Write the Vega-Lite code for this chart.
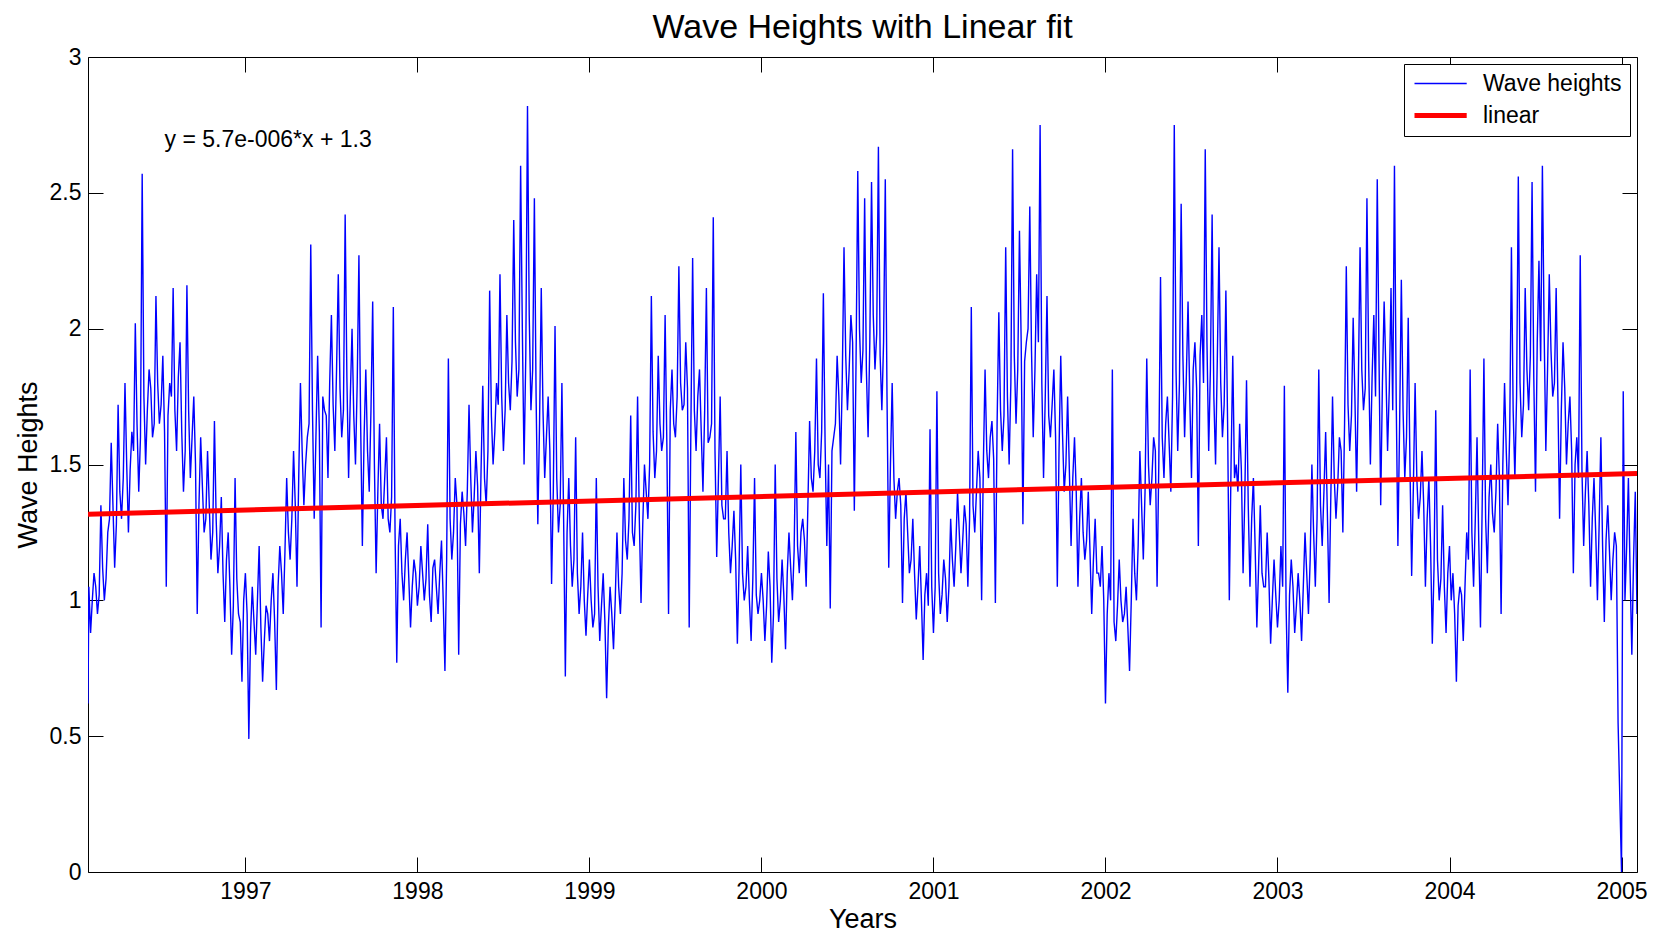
{
"$schema": "https://vega.github.io/schema/vega-lite/v6.json",
"width": 1549, "height": 815,
"autosize": {"type": "none"},
"padding": {"left": 88, "top": 57, "right": 28, "bottom": 63},
"background": "white",
"title": {"text": "Wave Heights with Linear fit", "fontSize": 34, "font": "Liberation Sans", "fontWeight": "normal", "color": "black", "anchor": "middle", "offset": -33, "baseline": "bottom"},
"config": {"view": {"stroke": "black", "strokeWidth": 1}, "font": "Liberation Sans"},
"datasets": {
"waves": [
{"x":1996.085,"y":0.62},{"x":1996.09,"y":1.05},{"x":1996.1,"y":0.88},{"x":1996.11,"y":1.00},{"x":1996.12,"y":1.10},{"x":1996.13,"y":1.05},{"x":1996.14,"y":0.95},{"x":1996.15,"y":1.02},{"x":1996.16,"y":1.35},{"x":1996.17,"y":1.12},{"x":1996.18,"y":1.00},{"x":1996.19,"y":1.08},{"x":1996.2,"y":1.25},{"x":1996.21,"y":1.30},{"x":1996.22,"y":1.58},{"x":1996.23,"y":1.35},{"x":1996.24,"y":1.12},{"x":1996.25,"y":1.28},{"x":1996.26,"y":1.72},{"x":1996.27,"y":1.40},{"x":1996.28,"y":1.30},{"x":1996.29,"y":1.45},{"x":1996.3,"y":1.80},{"x":1996.31,"y":1.50},{"x":1996.32,"y":1.25},{"x":1996.33,"y":1.48},{"x":1996.34,"y":1.62},{"x":1996.35,"y":1.55},{"x":1996.36,"y":2.02},{"x":1996.37,"y":1.65},{"x":1996.38,"y":1.40},{"x":1996.39,"y":1.60},{"x":1996.4,"y":2.57},{"x":1996.41,"y":1.75},{"x":1996.42,"y":1.50},{"x":1996.43,"y":1.70},{"x":1996.44,"y":1.85},{"x":1996.45,"y":1.78},{"x":1996.46,"y":1.60},{"x":1996.47,"y":1.65},{"x":1996.48,"y":2.12},{"x":1996.49,"y":1.80},{"x":1996.5,"y":1.65},{"x":1996.51,"y":1.72},{"x":1996.52,"y":1.90},{"x":1996.53,"y":1.62},{"x":1996.54,"y":1.05},{"x":1996.55,"y":1.68},{"x":1996.56,"y":1.80},{"x":1996.57,"y":1.75},{"x":1996.58,"y":2.15},{"x":1996.59,"y":1.70},{"x":1996.6,"y":1.55},{"x":1996.61,"y":1.82},{"x":1996.62,"y":1.95},{"x":1996.63,"y":1.62},{"x":1996.64,"y":1.40},{"x":1996.65,"y":1.55},{"x":1996.66,"y":2.16},{"x":1996.67,"y":1.70},{"x":1996.68,"y":1.45},{"x":1996.69,"y":1.60},{"x":1996.7,"y":1.75},{"x":1996.71,"y":1.50},{"x":1996.72,"y":0.95},{"x":1996.73,"y":1.35},{"x":1996.74,"y":1.60},{"x":1996.75,"y":1.42},{"x":1996.76,"y":1.25},{"x":1996.77,"y":1.30},{"x":1996.78,"y":1.55},{"x":1996.79,"y":1.35},{"x":1996.8,"y":1.15},{"x":1996.81,"y":1.25},{"x":1996.82,"y":1.66},{"x":1996.83,"y":1.30},{"x":1996.84,"y":1.10},{"x":1996.85,"y":1.20},{"x":1996.86,"y":1.38},{"x":1996.87,"y":1.10},{"x":1996.88,"y":0.92},{"x":1996.89,"y":1.15},{"x":1996.9,"y":1.25},{"x":1996.91,"y":1.05},{"x":1996.92,"y":0.80},{"x":1996.93,"y":0.98},{"x":1996.94,"y":1.45},{"x":1996.95,"y":1.08},{"x":1996.96,"y":0.95},{"x":1996.97,"y":0.92},{"x":1996.98,"y":0.70},{"x":1996.99,"y":1.00},
{"x":1997.0,"y":1.10},{"x":1997.01,"y":0.95},{"x":1997.02,"y":0.49},{"x":1997.03,"y":0.88},{"x":1997.04,"y":1.05},{"x":1997.05,"y":0.92},{"x":1997.06,"y":0.80},{"x":1997.07,"y":1.00},{"x":1997.08,"y":1.20},{"x":1997.09,"y":0.90},{"x":1997.1,"y":0.70},{"x":1997.11,"y":0.85},{"x":1997.12,"y":0.98},{"x":1997.13,"y":0.95},{"x":1997.14,"y":0.85},{"x":1997.15,"y":1.00},{"x":1997.16,"y":1.10},{"x":1997.17,"y":0.92},{"x":1997.18,"y":0.67},{"x":1997.19,"y":1.05},{"x":1997.2,"y":1.20},{"x":1997.21,"y":1.10},{"x":1997.22,"y":0.95},{"x":1997.23,"y":1.18},{"x":1997.24,"y":1.45},{"x":1997.25,"y":1.25},{"x":1997.26,"y":1.15},{"x":1997.27,"y":1.30},{"x":1997.28,"y":1.55},{"x":1997.29,"y":1.35},{"x":1997.3,"y":1.05},{"x":1997.31,"y":1.45},{"x":1997.32,"y":1.80},{"x":1997.33,"y":1.55},{"x":1997.34,"y":1.35},{"x":1997.35,"y":1.50},{"x":1997.36,"y":1.60},{"x":1997.37,"y":1.65},{"x":1997.38,"y":2.31},{"x":1997.39,"y":1.70},{"x":1997.4,"y":1.30},{"x":1997.41,"y":1.60},{"x":1997.42,"y":1.90},{"x":1997.43,"y":1.62},{"x":1997.44,"y":0.90},{"x":1997.45,"y":1.75},{"x":1997.46,"y":1.70},{"x":1997.47,"y":1.68},{"x":1997.48,"y":1.45},{"x":1997.49,"y":1.80},{"x":1997.5,"y":2.05},{"x":1997.51,"y":1.72},{"x":1997.52,"y":1.55},{"x":1997.53,"y":1.85},{"x":1997.54,"y":2.20},{"x":1997.55,"y":1.78},{"x":1997.56,"y":1.60},{"x":1997.57,"y":1.70},{"x":1997.58,"y":2.42},{"x":1997.59,"y":1.82},{"x":1997.6,"y":1.45},{"x":1997.61,"y":1.75},{"x":1997.62,"y":2.00},{"x":1997.63,"y":1.68},{"x":1997.64,"y":1.50},{"x":1997.65,"y":1.80},{"x":1997.66,"y":2.27},{"x":1997.67,"y":1.65},{"x":1997.68,"y":1.20},{"x":1997.69,"y":1.60},{"x":1997.7,"y":1.85},{"x":1997.71,"y":1.55},{"x":1997.72,"y":1.40},{"x":1997.73,"y":1.70},{"x":1997.74,"y":2.10},{"x":1997.75,"y":1.50},{"x":1997.76,"y":1.10},{"x":1997.77,"y":1.40},{"x":1997.78,"y":1.65},{"x":1997.79,"y":1.35},{"x":1997.8,"y":1.30},{"x":1997.81,"y":1.45},{"x":1997.82,"y":1.60},{"x":1997.83,"y":1.30},{"x":1997.84,"y":1.25},{"x":1997.85,"y":1.38},{"x":1997.86,"y":2.08},{"x":1997.87,"y":1.25},{"x":1997.88,"y":0.77},{"x":1997.89,"y":1.20},{"x":1997.9,"y":1.30},{"x":1997.91,"y":1.10},{"x":1997.92,"y":1.00},{"x":1997.93,"y":1.15},{"x":1997.94,"y":1.25},{"x":1997.95,"y":1.08},{"x":1997.96,"y":0.90},{"x":1997.97,"y":1.05},{"x":1997.98,"y":1.15},{"x":1997.99,"y":1.10},
{"x":1998.0,"y":0.98},{"x":1998.01,"y":1.05},{"x":1998.02,"y":1.20},{"x":1998.03,"y":1.10},{"x":1998.04,"y":1.00},{"x":1998.05,"y":1.08},{"x":1998.06,"y":1.28},{"x":1998.07,"y":1.02},{"x":1998.08,"y":0.92},{"x":1998.09,"y":1.12},{"x":1998.1,"y":1.15},{"x":1998.11,"y":1.05},{"x":1998.12,"y":0.95},{"x":1998.13,"y":1.10},{"x":1998.14,"y":1.22},{"x":1998.15,"y":1.00},{"x":1998.16,"y":0.74},{"x":1998.17,"y":1.15},{"x":1998.18,"y":1.89},{"x":1998.19,"y":1.30},{"x":1998.2,"y":1.15},{"x":1998.21,"y":1.25},{"x":1998.22,"y":1.45},{"x":1998.23,"y":1.35},{"x":1998.24,"y":0.80},{"x":1998.25,"y":1.28},{"x":1998.26,"y":1.40},{"x":1998.27,"y":1.32},{"x":1998.28,"y":1.20},{"x":1998.29,"y":1.40},{"x":1998.3,"y":1.72},{"x":1998.31,"y":1.45},{"x":1998.32,"y":1.25},{"x":1998.33,"y":1.38},{"x":1998.34,"y":1.55},{"x":1998.35,"y":1.42},{"x":1998.36,"y":1.10},{"x":1998.37,"y":1.48},{"x":1998.38,"y":1.79},{"x":1998.39,"y":1.45},{"x":1998.4,"y":1.35},{"x":1998.41,"y":1.55},{"x":1998.42,"y":2.14},{"x":1998.43,"y":1.68},{"x":1998.44,"y":1.50},{"x":1998.45,"y":1.62},{"x":1998.46,"y":1.80},{"x":1998.47,"y":1.72},{"x":1998.48,"y":2.20},{"x":1998.49,"y":1.75},{"x":1998.5,"y":1.55},{"x":1998.51,"y":1.70},{"x":1998.52,"y":2.05},{"x":1998.53,"y":1.80},{"x":1998.54,"y":1.70},{"x":1998.55,"y":1.88},{"x":1998.56,"y":2.40},{"x":1998.57,"y":1.95},{"x":1998.58,"y":1.75},{"x":1998.59,"y":1.85},{"x":1998.6,"y":2.60},{"x":1998.61,"y":2.00},{"x":1998.62,"y":1.50},{"x":1998.63,"y":1.90},{"x":1998.64,"y":2.82},{"x":1998.65,"y":2.05},{"x":1998.66,"y":1.70},{"x":1998.67,"y":1.85},{"x":1998.68,"y":2.48},{"x":1998.69,"y":1.75},{"x":1998.7,"y":1.28},{"x":1998.71,"y":1.65},{"x":1998.72,"y":2.15},{"x":1998.73,"y":1.70},{"x":1998.74,"y":1.45},{"x":1998.75,"y":1.60},{"x":1998.76,"y":1.75},{"x":1998.77,"y":1.55},{"x":1998.78,"y":1.06},{"x":1998.79,"y":1.40},{"x":1998.8,"y":2.01},{"x":1998.81,"y":1.45},{"x":1998.82,"y":1.25},{"x":1998.83,"y":1.35},{"x":1998.84,"y":1.80},{"x":1998.85,"y":1.30},{"x":1998.86,"y":0.72},{"x":1998.87,"y":1.25},{"x":1998.88,"y":1.45},{"x":1998.89,"y":1.20},{"x":1998.9,"y":1.05},{"x":1998.91,"y":1.15},{"x":1998.92,"y":1.60},{"x":1998.93,"y":1.10},{"x":1998.94,"y":0.95},{"x":1998.95,"y":1.05},{"x":1998.96,"y":1.25},{"x":1998.97,"y":1.00},{"x":1998.98,"y":0.87},{"x":1998.99,"y":1.02},
{"x":1999.0,"y":1.15},{"x":1999.01,"y":1.00},{"x":1999.02,"y":0.90},{"x":1999.03,"y":0.95},{"x":1999.04,"y":1.45},{"x":1999.05,"y":1.05},{"x":1999.06,"y":0.85},{"x":1999.07,"y":0.98},{"x":1999.08,"y":1.10},{"x":1999.09,"y":0.92},{"x":1999.1,"y":0.64},{"x":1999.11,"y":0.90},{"x":1999.12,"y":1.05},{"x":1999.13,"y":0.95},{"x":1999.14,"y":0.82},{"x":1999.15,"y":1.00},{"x":1999.16,"y":1.25},{"x":1999.17,"y":1.05},{"x":1999.18,"y":0.95},{"x":1999.19,"y":1.10},{"x":1999.2,"y":1.45},{"x":1999.21,"y":1.22},{"x":1999.22,"y":1.15},{"x":1999.23,"y":1.30},{"x":1999.24,"y":1.68},{"x":1999.25,"y":1.25},{"x":1999.26,"y":1.20},{"x":1999.27,"y":1.35},{"x":1999.28,"y":1.75},{"x":1999.29,"y":1.30},{"x":1999.3,"y":0.99},{"x":1999.31,"y":1.28},{"x":1999.32,"y":1.50},{"x":1999.33,"y":1.40},{"x":1999.34,"y":1.30},{"x":1999.35,"y":1.50},{"x":1999.36,"y":2.12},{"x":1999.37,"y":1.62},{"x":1999.38,"y":1.45},{"x":1999.39,"y":1.55},{"x":1999.4,"y":1.90},{"x":1999.41,"y":1.65},{"x":1999.42,"y":1.55},{"x":1999.43,"y":1.60},{"x":1999.44,"y":2.05},{"x":1999.45,"y":1.58},{"x":1999.46,"y":0.95},{"x":1999.47,"y":1.70},{"x":1999.48,"y":1.85},{"x":1999.49,"y":1.65},{"x":1999.5,"y":1.60},{"x":1999.51,"y":1.75},{"x":1999.52,"y":2.23},{"x":1999.53,"y":1.80},{"x":1999.54,"y":1.70},{"x":1999.55,"y":1.72},{"x":1999.56,"y":1.95},{"x":1999.57,"y":1.78},{"x":1999.58,"y":0.90},{"x":1999.59,"y":1.65},{"x":1999.6,"y":2.26},{"x":1999.61,"y":1.70},{"x":1999.62,"y":1.55},{"x":1999.63,"y":1.75},{"x":1999.64,"y":1.85},{"x":1999.65,"y":1.62},{"x":1999.66,"y":1.40},{"x":1999.67,"y":1.70},{"x":1999.68,"y":2.15},{"x":1999.69,"y":1.58},{"x":1999.7,"y":1.60},{"x":1999.71,"y":1.65},{"x":1999.72,"y":2.41},{"x":1999.73,"y":1.55},{"x":1999.74,"y":1.16},{"x":1999.75,"y":1.45},{"x":1999.76,"y":1.75},{"x":1999.77,"y":1.35},{"x":1999.78,"y":1.30},{"x":1999.79,"y":1.30},{"x":1999.8,"y":1.55},{"x":1999.81,"y":1.25},{"x":1999.82,"y":1.10},{"x":1999.83,"y":1.20},{"x":1999.84,"y":1.33},{"x":1999.85,"y":1.15},{"x":1999.86,"y":0.84},{"x":1999.87,"y":1.12},{"x":1999.88,"y":1.50},{"x":1999.89,"y":1.10},{"x":1999.9,"y":1.00},{"x":1999.91,"y":1.05},{"x":1999.92,"y":1.20},{"x":1999.93,"y":1.00},{"x":1999.94,"y":0.85},{"x":1999.95,"y":1.08},{"x":1999.96,"y":1.45},{"x":1999.97,"y":1.02},{"x":1999.98,"y":0.95},{"x":1999.99,"y":1.00},
{"x":2000.0,"y":1.10},{"x":2000.01,"y":1.00},{"x":2000.02,"y":0.85},{"x":2000.03,"y":0.98},{"x":2000.04,"y":1.18},{"x":2000.05,"y":1.05},{"x":2000.06,"y":0.77},{"x":2000.07,"y":0.95},{"x":2000.08,"y":1.50},{"x":2000.09,"y":1.08},{"x":2000.1,"y":0.92},{"x":2000.11,"y":1.00},{"x":2000.12,"y":1.15},{"x":2000.13,"y":1.02},{"x":2000.14,"y":0.82},{"x":2000.15,"y":1.10},{"x":2000.16,"y":1.25},{"x":2000.17,"y":1.12},{"x":2000.18,"y":1.00},{"x":2000.19,"y":1.18},{"x":2000.2,"y":1.62},{"x":2000.21,"y":1.20},{"x":2000.22,"y":1.10},{"x":2000.23,"y":1.25},{"x":2000.24,"y":1.30},{"x":2000.25,"y":1.22},{"x":2000.26,"y":1.05},{"x":2000.27,"y":1.35},{"x":2000.28,"y":1.66},{"x":2000.29,"y":1.45},{"x":2000.3,"y":1.40},{"x":2000.31,"y":1.55},{"x":2000.32,"y":1.89},{"x":2000.33,"y":1.50},{"x":2000.34,"y":1.45},{"x":2000.35,"y":1.62},{"x":2000.36,"y":2.13},{"x":2000.37,"y":1.58},{"x":2000.38,"y":1.20},{"x":2000.39,"y":1.50},{"x":2000.4,"y":0.97},{"x":2000.41,"y":1.55},{"x":2000.42,"y":1.60},{"x":2000.43,"y":1.65},{"x":2000.44,"y":1.90},{"x":2000.45,"y":1.75},{"x":2000.46,"y":1.50},{"x":2000.47,"y":1.82},{"x":2000.48,"y":2.30},{"x":2000.49,"y":1.90},{"x":2000.5,"y":1.70},{"x":2000.51,"y":1.85},{"x":2000.52,"y":2.05},{"x":2000.53,"y":1.95},{"x":2000.54,"y":1.33},{"x":2000.55,"y":1.88},{"x":2000.56,"y":2.58},{"x":2000.57,"y":2.00},{"x":2000.58,"y":1.80},{"x":2000.59,"y":1.92},{"x":2000.6,"y":2.48},{"x":2000.61,"y":1.85},{"x":2000.62,"y":1.60},{"x":2000.63,"y":1.95},{"x":2000.64,"y":2.54},{"x":2000.65,"y":2.05},{"x":2000.66,"y":1.85},{"x":2000.67,"y":1.98},{"x":2000.68,"y":2.67},{"x":2000.69,"y":1.90},{"x":2000.7,"y":1.70},{"x":2000.71,"y":1.95},{"x":2000.72,"y":2.55},{"x":2000.73,"y":1.75},{"x":2000.74,"y":1.12},{"x":2000.75,"y":1.50},{"x":2000.76,"y":1.80},{"x":2000.77,"y":1.45},{"x":2000.78,"y":1.30},{"x":2000.79,"y":1.40},{"x":2000.8,"y":1.45},{"x":2000.81,"y":1.35},{"x":2000.82,"y":0.99},{"x":2000.83,"y":1.30},{"x":2000.84,"y":1.40},{"x":2000.85,"y":1.25},{"x":2000.86,"y":1.10},{"x":2000.87,"y":1.15},{"x":2000.88,"y":1.30},{"x":2000.89,"y":1.10},{"x":2000.9,"y":0.93},{"x":2000.91,"y":1.05},{"x":2000.92,"y":1.20},{"x":2000.93,"y":1.00},{"x":2000.94,"y":0.78},{"x":2000.95,"y":1.02},{"x":2000.96,"y":1.10},{"x":2000.97,"y":0.98},{"x":2000.98,"y":1.63},{"x":2000.99,"y":1.05},
{"x":2001.0,"y":0.88},{"x":2001.01,"y":1.05},{"x":2001.02,"y":1.77},{"x":2001.03,"y":1.10},{"x":2001.04,"y":0.95},{"x":2001.05,"y":1.02},{"x":2001.06,"y":1.15},{"x":2001.07,"y":1.08},{"x":2001.08,"y":0.92},{"x":2001.09,"y":1.05},{"x":2001.1,"y":1.30},{"x":2001.11,"y":1.15},{"x":2001.12,"y":1.05},{"x":2001.13,"y":1.20},{"x":2001.14,"y":1.40},{"x":2001.15,"y":1.25},{"x":2001.16,"y":1.10},{"x":2001.17,"y":1.22},{"x":2001.18,"y":1.35},{"x":2001.19,"y":1.28},{"x":2001.2,"y":1.05},{"x":2001.21,"y":1.30},{"x":2001.22,"y":2.08},{"x":2001.23,"y":1.35},{"x":2001.24,"y":1.25},{"x":2001.25,"y":1.40},{"x":2001.26,"y":1.55},{"x":2001.27,"y":1.45},{"x":2001.28,"y":1.00},{"x":2001.29,"y":1.50},{"x":2001.3,"y":1.85},{"x":2001.31,"y":1.55},{"x":2001.32,"y":1.45},{"x":2001.33,"y":1.60},{"x":2001.34,"y":1.66},{"x":2001.35,"y":1.52},{"x":2001.36,"y":0.99},{"x":2001.37,"y":1.65},{"x":2001.38,"y":2.06},{"x":2001.39,"y":1.70},{"x":2001.4,"y":1.55},{"x":2001.41,"y":1.68},{"x":2001.42,"y":2.30},{"x":2001.43,"y":1.75},{"x":2001.44,"y":1.50},{"x":2001.45,"y":1.80},{"x":2001.46,"y":2.66},{"x":2001.47,"y":1.90},{"x":2001.48,"y":1.65},{"x":2001.49,"y":1.85},{"x":2001.5,"y":2.36},{"x":2001.51,"y":1.95},{"x":2001.52,"y":1.28},{"x":2001.53,"y":1.88},{"x":2001.54,"y":1.95},{"x":2001.55,"y":2.00},{"x":2001.56,"y":2.45},{"x":2001.57,"y":1.92},{"x":2001.58,"y":1.60},{"x":2001.59,"y":1.85},{"x":2001.6,"y":2.20},{"x":2001.61,"y":1.95},{"x":2001.62,"y":2.75},{"x":2001.63,"y":1.80},{"x":2001.64,"y":1.45},{"x":2001.65,"y":1.75},{"x":2001.66,"y":2.12},{"x":2001.67,"y":1.68},{"x":2001.68,"y":1.60},{"x":2001.69,"y":1.72},{"x":2001.7,"y":1.85},{"x":2001.71,"y":1.60},{"x":2001.72,"y":1.05},{"x":2001.73,"y":1.55},{"x":2001.74,"y":1.90},{"x":2001.75,"y":1.62},{"x":2001.76,"y":1.40},{"x":2001.77,"y":1.50},{"x":2001.78,"y":1.75},{"x":2001.79,"y":1.48},{"x":2001.8,"y":1.20},{"x":2001.81,"y":1.45},{"x":2001.82,"y":1.60},{"x":2001.83,"y":1.40},{"x":2001.84,"y":1.05},{"x":2001.85,"y":1.30},{"x":2001.86,"y":1.45},{"x":2001.87,"y":1.25},{"x":2001.88,"y":1.15},{"x":2001.89,"y":1.22},{"x":2001.9,"y":1.40},{"x":2001.91,"y":1.18},{"x":2001.92,"y":0.95},{"x":2001.93,"y":1.15},{"x":2001.94,"y":1.30},{"x":2001.95,"y":1.10},{"x":2001.96,"y":1.10},{"x":2001.97,"y":1.05},{"x":2001.98,"y":1.20},{"x":2001.99,"y":1.00},
{"x":2002.0,"y":0.62},{"x":2002.01,"y":0.95},{"x":2002.02,"y":1.10},{"x":2002.03,"y":1.00},{"x":2002.04,"y":1.85},{"x":2002.05,"y":0.92},{"x":2002.06,"y":0.85},{"x":2002.07,"y":0.98},{"x":2002.08,"y":1.15},{"x":2002.09,"y":1.00},{"x":2002.1,"y":0.92},{"x":2002.11,"y":0.95},{"x":2002.12,"y":1.05},{"x":2002.13,"y":0.90},{"x":2002.14,"y":0.74},{"x":2002.15,"y":1.00},{"x":2002.16,"y":1.30},{"x":2002.17,"y":1.10},{"x":2002.18,"y":1.00},{"x":2002.19,"y":1.20},{"x":2002.2,"y":1.55},{"x":2002.21,"y":1.35},{"x":2002.22,"y":1.15},{"x":2002.23,"y":1.40},{"x":2002.24,"y":1.89},{"x":2002.25,"y":1.50},{"x":2002.26,"y":1.35},{"x":2002.27,"y":1.45},{"x":2002.28,"y":1.60},{"x":2002.29,"y":1.55},{"x":2002.3,"y":1.05},{"x":2002.31,"y":1.50},{"x":2002.32,"y":2.19},{"x":2002.33,"y":1.60},{"x":2002.34,"y":1.45},{"x":2002.35,"y":1.65},{"x":2002.36,"y":1.75},{"x":2002.37,"y":1.58},{"x":2002.38,"y":1.40},{"x":2002.39,"y":1.75},{"x":2002.4,"y":2.75},{"x":2002.41,"y":1.85},{"x":2002.42,"y":1.55},{"x":2002.43,"y":1.80},{"x":2002.44,"y":2.46},{"x":2002.45,"y":1.90},{"x":2002.46,"y":1.60},{"x":2002.47,"y":1.82},{"x":2002.48,"y":2.10},{"x":2002.49,"y":1.75},{"x":2002.5,"y":1.45},{"x":2002.51,"y":1.85},{"x":2002.52,"y":1.95},{"x":2002.53,"y":1.78},{"x":2002.54,"y":1.20},{"x":2002.55,"y":1.90},{"x":2002.56,"y":2.05},{"x":2002.57,"y":1.80},{"x":2002.58,"y":2.66},{"x":2002.59,"y":1.95},{"x":2002.6,"y":1.55},{"x":2002.61,"y":1.85},{"x":2002.62,"y":2.42},{"x":2002.63,"y":1.75},{"x":2002.64,"y":1.50},{"x":2002.65,"y":1.88},{"x":2002.66,"y":2.30},{"x":2002.67,"y":1.80},{"x":2002.68,"y":1.60},{"x":2002.69,"y":1.72},{"x":2002.7,"y":2.14},{"x":2002.71,"y":1.65},{"x":2002.72,"y":1.00},{"x":2002.73,"y":1.50},{"x":2002.74,"y":1.90},{"x":2002.75,"y":1.45},{"x":2002.76,"y":1.50},{"x":2002.77,"y":1.40},{"x":2002.78,"y":1.65},{"x":2002.79,"y":1.48},{"x":2002.8,"y":1.10},{"x":2002.81,"y":1.38},{"x":2002.82,"y":1.81},{"x":2002.83,"y":1.35},{"x":2002.84,"y":1.05},{"x":2002.85,"y":1.30},{"x":2002.86,"y":1.45},{"x":2002.87,"y":1.20},{"x":2002.88,"y":0.90},{"x":2002.89,"y":1.12},{"x":2002.9,"y":1.35},{"x":2002.91,"y":1.10},{"x":2002.92,"y":1.05},{"x":2002.93,"y":1.05},{"x":2002.94,"y":1.25},{"x":2002.95,"y":1.08},{"x":2002.96,"y":0.84},{"x":2002.97,"y":1.00},{"x":2002.98,"y":1.15},{"x":2002.99,"y":1.02},
{"x":2003.0,"y":0.90},{"x":2003.01,"y":1.00},{"x":2003.02,"y":1.20},{"x":2003.03,"y":1.05},{"x":2003.04,"y":1.79},{"x":2003.05,"y":0.98},{"x":2003.06,"y":0.66},{"x":2003.07,"y":1.02},{"x":2003.08,"y":1.15},{"x":2003.09,"y":1.05},{"x":2003.1,"y":0.88},{"x":2003.11,"y":0.98},{"x":2003.12,"y":1.10},{"x":2003.13,"y":1.00},{"x":2003.14,"y":0.85},{"x":2003.15,"y":1.05},{"x":2003.16,"y":1.25},{"x":2003.17,"y":1.10},{"x":2003.18,"y":0.95},{"x":2003.19,"y":1.15},{"x":2003.2,"y":1.50},{"x":2003.21,"y":1.25},{"x":2003.22,"y":1.05},{"x":2003.23,"y":1.30},{"x":2003.24,"y":1.85},{"x":2003.25,"y":1.35},{"x":2003.26,"y":1.20},{"x":2003.27,"y":1.40},{"x":2003.28,"y":1.62},{"x":2003.29,"y":1.32},{"x":2003.3,"y":0.99},{"x":2003.31,"y":1.38},{"x":2003.32,"y":1.75},{"x":2003.33,"y":1.45},{"x":2003.34,"y":1.30},{"x":2003.35,"y":1.42},{"x":2003.36,"y":1.60},{"x":2003.37,"y":1.55},{"x":2003.38,"y":1.25},{"x":2003.39,"y":1.65},{"x":2003.4,"y":2.23},{"x":2003.41,"y":1.72},{"x":2003.42,"y":1.55},{"x":2003.43,"y":1.68},{"x":2003.44,"y":2.04},{"x":2003.45,"y":1.75},{"x":2003.46,"y":1.40},{"x":2003.47,"y":1.80},{"x":2003.48,"y":2.30},{"x":2003.49,"y":1.85},{"x":2003.5,"y":1.70},{"x":2003.51,"y":1.78},{"x":2003.52,"y":2.48},{"x":2003.53,"y":1.88},{"x":2003.54,"y":1.50},{"x":2003.55,"y":1.82},{"x":2003.56,"y":2.05},{"x":2003.57,"y":1.75},{"x":2003.58,"y":2.55},{"x":2003.59,"y":1.90},{"x":2003.6,"y":1.35},{"x":2003.61,"y":1.80},{"x":2003.62,"y":2.10},{"x":2003.63,"y":1.85},{"x":2003.64,"y":1.55},{"x":2003.65,"y":1.78},{"x":2003.66,"y":2.15},{"x":2003.67,"y":1.70},{"x":2003.68,"y":2.60},{"x":2003.69,"y":1.75},{"x":2003.7,"y":1.20},{"x":2003.71,"y":1.65},{"x":2003.72,"y":2.18},{"x":2003.73,"y":1.70},{"x":2003.74,"y":1.45},{"x":2003.75,"y":1.60},{"x":2003.76,"y":2.04},{"x":2003.77,"y":1.50},{"x":2003.78,"y":1.09},{"x":2003.79,"y":1.42},{"x":2003.8,"y":1.80},{"x":2003.81,"y":1.45},{"x":2003.82,"y":1.30},{"x":2003.83,"y":1.38},{"x":2003.84,"y":1.55},{"x":2003.85,"y":1.35},{"x":2003.86,"y":1.05},{"x":2003.87,"y":1.30},{"x":2003.88,"y":1.45},{"x":2003.89,"y":1.20},{"x":2003.9,"y":0.84},{"x":2003.91,"y":1.12},{"x":2003.92,"y":1.70},{"x":2003.93,"y":1.15},{"x":2003.94,"y":1.00},{"x":2003.95,"y":1.08},{"x":2003.96,"y":1.35},{"x":2003.97,"y":1.05},{"x":2003.98,"y":0.88},{"x":2003.99,"y":1.10},
{"x":2004.0,"y":1.20},{"x":2004.01,"y":1.00},{"x":2004.02,"y":1.10},{"x":2004.03,"y":0.95},{"x":2004.04,"y":0.70},{"x":2004.05,"y":0.98},{"x":2004.06,"y":1.05},{"x":2004.07,"y":1.02},{"x":2004.08,"y":0.85},{"x":2004.09,"y":1.05},{"x":2004.1,"y":1.25},{"x":2004.11,"y":1.15},{"x":2004.12,"y":1.85},{"x":2004.13,"y":1.25},{"x":2004.14,"y":1.05},{"x":2004.15,"y":1.30},{"x":2004.16,"y":1.60},{"x":2004.17,"y":1.22},{"x":2004.18,"y":0.90},{"x":2004.19,"y":1.35},{"x":2004.2,"y":1.89},{"x":2004.21,"y":1.30},{"x":2004.22,"y":1.10},{"x":2004.23,"y":1.38},{"x":2004.24,"y":1.50},{"x":2004.25,"y":1.32},{"x":2004.26,"y":1.25},{"x":2004.27,"y":1.40},{"x":2004.28,"y":1.65},{"x":2004.29,"y":1.45},{"x":2004.3,"y":0.95},{"x":2004.31,"y":1.50},{"x":2004.32,"y":1.80},{"x":2004.33,"y":1.55},{"x":2004.34,"y":1.35},{"x":2004.35,"y":1.62},{"x":2004.36,"y":2.30},{"x":2004.37,"y":1.70},{"x":2004.38,"y":1.45},{"x":2004.39,"y":1.75},{"x":2004.4,"y":2.56},{"x":2004.41,"y":1.80},{"x":2004.42,"y":1.60},{"x":2004.43,"y":1.72},{"x":2004.44,"y":2.15},{"x":2004.45,"y":1.85},{"x":2004.46,"y":1.70},{"x":2004.47,"y":1.90},{"x":2004.48,"y":2.54},{"x":2004.49,"y":1.82},{"x":2004.5,"y":1.40},{"x":2004.51,"y":1.95},{"x":2004.52,"y":2.25},{"x":2004.53,"y":1.88},{"x":2004.54,"y":2.60},{"x":2004.55,"y":2.00},{"x":2004.56,"y":1.55},{"x":2004.57,"y":1.85},{"x":2004.58,"y":2.20},{"x":2004.59,"y":1.92},{"x":2004.6,"y":1.75},{"x":2004.61,"y":1.80},{"x":2004.62,"y":2.15},{"x":2004.63,"y":1.75},{"x":2004.64,"y":1.30},{"x":2004.65,"y":1.70},{"x":2004.66,"y":1.95},{"x":2004.67,"y":1.78},{"x":2004.68,"y":1.50},{"x":2004.69,"y":1.65},{"x":2004.7,"y":1.75},{"x":2004.71,"y":1.55},{"x":2004.72,"y":1.10},{"x":2004.73,"y":1.50},{"x":2004.74,"y":1.60},{"x":2004.75,"y":1.45},{"x":2004.76,"y":2.27},{"x":2004.77,"y":1.48},{"x":2004.78,"y":1.20},{"x":2004.79,"y":1.40},{"x":2004.8,"y":1.55},{"x":2004.81,"y":1.35},{"x":2004.82,"y":1.05},{"x":2004.83,"y":1.30},{"x":2004.84,"y":1.45},{"x":2004.85,"y":1.25},{"x":2004.86,"y":1.00},{"x":2004.87,"y":1.28},{"x":2004.88,"y":1.60},{"x":2004.89,"y":1.20},{"x":2004.9,"y":0.92},{"x":2004.91,"y":1.22},{"x":2004.92,"y":1.35},{"x":2004.93,"y":1.18},{"x":2004.94,"y":1.00},{"x":2004.95,"y":1.15},{"x":2004.96,"y":1.25},{"x":2004.97,"y":1.20},{"x":2004.98,"y":0.55},
{"x":2005.0,"y":0.00},{"x":2005.01,"y":1.77},{"x":2005.02,"y":1.00},{"x":2005.03,"y":1.20},{"x":2005.04,"y":1.45},{"x":2005.05,"y":1.10},{"x":2005.06,"y":0.80},{"x":2005.07,"y":1.15},{"x":2005.08,"y":1.40},{"x":2005.09,"y":0.95}
],
"fit": [{"x":1996.085,"y":1.317},{"x":2005.09,"y":1.467}],
"note": [{"x":1996.53,"y":2.667,"label":"y = 5.7e-006*x + 1.3"}]
},
"layer": [
{
"data": {"name": "waves"},
"mark": {"type": "line", "clip": true},
"encoding": {
"x": {"field": "x", "type": "quantitative", "scale": {"domain": [1996.085, 2005.09], "nice": false, "zero": false},
"axis": {"orient": "bottom", "title": "Years", "values": [1997,1998,1999,2000,2001,2002,2003,2004,2005], "format": "d", "grid": false, "domain": false, "tickSize": -15, "tickColor": "black", "labelPadding": 41, "labelBaseline": "alphabetic", "labelFontSize": 23, "labelFont": "Liberation Sans", "labelColor": "black", "titleFontSize": 27, "titleFont": "Liberation Sans", "titleFontWeight": "normal", "titleColor": "black", "titleBaseline": "alphabetic", "titleX": 774.5, "titleY": 55, "titleAlign": "center"}},
"y": {"field": "y", "type": "quantitative", "scale": {"domain": [0, 3], "nice": false, "zero": false},
"axis": {"orient": "left", "title": "Wave Heights", "values": [0,0.5,1,1.5,2,2.5,3], "format": ".1~f", "grid": false, "domain": false, "tickSize": -15, "tickColor": "black", "labelPadding": 22, "labelFontSize": 23, "labelFont": "Liberation Sans", "labelColor": "black", "labelBaseline": "middle", "titleFontSize": 27, "titleFont": "Liberation Sans", "titleFontWeight": "normal", "titleColor": "black", "titleBaseline": "alphabetic", "titleAngle": -90, "titleX": -52, "titleY": 407.5, "titleAlign": "center"}},
"color": {"datum": "Wave heights", "type": "nominal", "scale": {"domain": ["Wave heights", "linear"], "range": ["#0000ff", "#ff0000"]},
"legend": {"title": null, "orient": "top-right", "offset": 7, "strokeColor": "black", "fillColor": "white", "padding": 8, "symbolType": "M-1,0H4.8", "symbolSize": 324, "labelFontSize": 23, "labelFont": "Liberation Sans", "labelColor": "black", "labelOffset": 48, "rowPadding": 8, "labelLimit": 400}},
"strokeWidth": {"datum": "Wave heights", "type": "nominal", "scale": {"type": "point", "domain": ["Wave heights", "linear"], "range": [1.4, 5]},
"legend": {"title": null, "orient": "top-right", "offset": 7, "strokeColor": "black", "fillColor": "white", "padding": 8, "symbolType": "M-1,0H4.8", "symbolSize": 324, "labelFontSize": 23, "labelFont": "Liberation Sans", "labelColor": "black", "labelOffset": 48, "rowPadding": 8, "labelLimit": 400}}
}
},
{
"data": {"name": "fit"},
"mark": {"type": "line", "clip": true},
"encoding": {
"x": {"field": "x", "type": "quantitative", "axis": {"orient": "top", "title": null, "labels": false, "values": [1997,1998,1999,2000,2001,2002,2003,2004,2005], "grid": false, "domain": false, "tickSize": -15, "tickColor": "black", "minExtent": 0, "maxExtent": 0}},
"y": {"field": "y", "type": "quantitative", "axis": {"orient": "right", "title": null, "labels": false, "values": [0,0.5,1,1.5,2,2.5,3], "grid": false, "domain": false, "tickSize": -15, "tickColor": "black", "minExtent": 0, "maxExtent": 0}},
"color": {"datum": "linear", "type": "nominal"},
"strokeWidth": {"datum": "linear", "type": "nominal"}
}
},
{
"data": {"name": "note"},
"mark": {"type": "text", "align": "left", "baseline": "alphabetic", "fontSize": 23, "font": "Liberation Sans", "color": "black"},
"encoding": {
"x": {"field": "x", "type": "quantitative", "axis": null},
"y": {"field": "y", "type": "quantitative", "axis": null},
"text": {"field": "label"}
}
}
],
"resolve": {"axis": {"x": "independent", "y": "independent"}}
}
